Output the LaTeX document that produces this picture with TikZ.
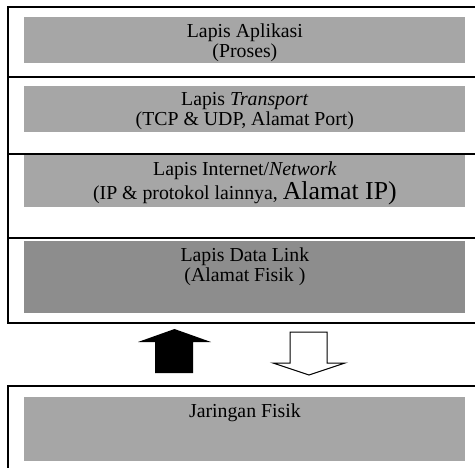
\documentclass[tikz,border=0pt]{standalone}
\usepackage{fontspec}
\setmainfont{Liberation Serif}
\usetikzlibrary{positioning}
\definecolor{layergray}{RGB}{166,166,166}
\definecolor{linkgray}{RGB}{141,141,141}
\tikzstyle{frame} = [draw=black, line width=0.8pt]
\tikzstyle{layer} = [rectangle, inner sep=0pt, minimum width=220.5pt, anchor=north west]
\tikzstyle{layertext} = [align=center, inner sep=0pt, font=\fontsize{9.9}{10}\selectfont]
\tikzstyle{solidarrow} = [fill=black]
\tikzstyle{hollowarrow} = [draw=black, fill=white, line width=0.5pt]

\begin{document}
\begin{tikzpicture}[x=0.5pt, y=-0.5pt]
    \useasboundingbox (0,0) rectangle (475,467);
    \clip (0,0) rectangle (475,467);
    % First we draw the frames
    \draw[frame] (480,7) -- (8,7) -- (8,323) -- (480,323);
    \foreach \y in {77,154,238}
        \draw[frame] (8,\y) -- (480,\y);
    \draw[frame] (480,386) -- (8,386) -- (8,472);

    % Then the layers with their labels
    \foreach \ytop/\h/\name/\shade/\label in {{17/23pt/app/layergray/{Lapis Aplikasi\\(Proses)}},
    {86/23pt/trans/layergray/{Lapis \textit{Transport}\\(TCP \& UDP, Alamat Port)}},
    {155/26pt/net/layergray/{Lapis Internet/\textit{Network}\\(IP \& protokol lainnya, {\fontsize{12.9}{12}\selectfont Alamat IP)}}},
    {241/36pt/link/linkgray/{Lapis Data Link\\(Alamat Fisik )}},
    {397/32pt/phys/layergray/{Jaringan Fisik}}}
    {
        \node[layer, fill=\shade, minimum height=\h] (\name) at (24,\ytop) {};
        \node[layertext, below=3pt of \name.north] (\name-lbl) {\label};
    }

    % Up and down arrows between the stack and the network
    \fill[solidarrow] (155,373) -- (155,342) -- (138,342) -- (174.5,329) -- (211,342) -- (193,342) -- (193,373) -- cycle;
    \draw[hollowarrow] (290,332) -- (327,332) -- (327,363) -- (345,363) -- (309,375) -- (273,363) -- (290,363) -- cycle;
\end{tikzpicture}
\end{document}
